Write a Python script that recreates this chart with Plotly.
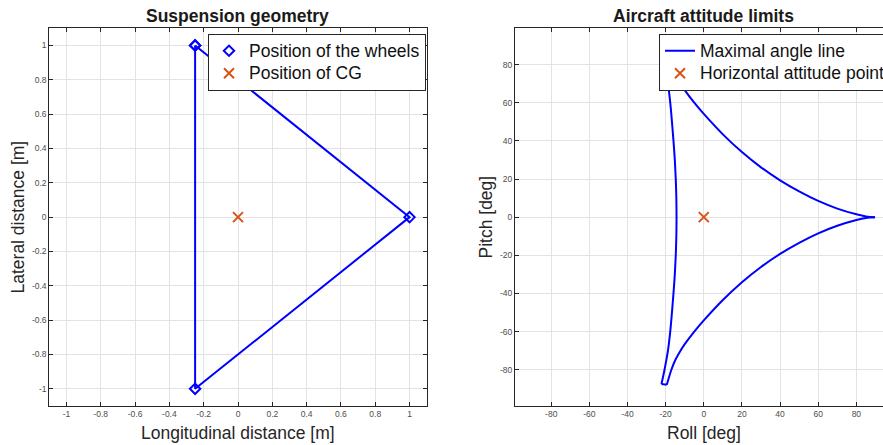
import plotly.graph_objects as go

# ---------------- data ----------------
# Suspension: wheel contact points (closed triangle) and centre of gravity
wheel_x = [-0.25, 1.0, -0.25, -0.25]
wheel_y = [1.0, 0.0, -1.0, 1.0]
cg_x = [0.0]
cg_y = [0.0]

# Attitude limit envelope (roll, pitch in deg), traced piece by piece
upper_roll = [89.8, 85, 80, 70, 60, 50, 40, 30, 20, 10, 0, -5, -10, -13.0, -15.0, -17.0, -19.4]
upper_pitch = [0, 0.4, 1.5, 4.5, 8.5, 13.5, 19.3, 26.1, 34.1, 43.4, 54.1, 60.0, 66.6, 71.3, 75.0, 80.0, 87.9]

side_roll = [-22.2, -20.6, -18.8, -17.6, -16.7, -15.9, -15.2, -14.7, -14.4, -14.3,
             -14.4, -14.7, -15.2, -15.9, -16.7, -17.6, -18.8, -20.6, -22.2]
side_pitch = [87.5, 80, 70, 60, 50, 40, 30, 20, 10, 0,
              -10, -20, -30, -40, -50, -60, -70, -80, -87.5]

lower_roll = [-19.4, -17.0, -15.0, -13.0, -10, -5, 0, 10, 20, 30, 40, 50, 60, 70, 80, 85, 89.8]
lower_pitch = [-87.9, -80.0, -75.0, -71.3, -66.6, -60.0, -54.1, -43.4, -34.1, -26.1, -19.3, -13.5, -8.5, -4.5, -1.5, -0.4, 0]

cap_roll = [-19.4, -22.2, None, -22.2, -19.4]
cap_pitch = [87.9, 87.5, None, -87.5, -87.9]

level_roll = [0.0]
level_pitch = [0.0]

# tick positions and labels
left_x_ticks = [-1, -0.8, -0.6, -0.4, -0.2, 0, 0.2, 0.4, 0.6, 0.8, 1]
left_x_labels = ["-1", "-0.8", "-0.6", "-0.4", "-0.2", "0", "0.2", "0.4", "0.6", "0.8", "1"]
left_y_ticks = left_x_ticks
left_y_labels = left_x_labels
right_ticks = [-80, -60, -40, -20, 0, 20, 40, 60, 80]
right_labels = ["-80", "-60", "-40", "-20", "0", "20", "40", "60", "80"]

# ---------------- styling ----------------
W, H = 900, 445
FONT = "Liberation Sans, Arial, Helvetica, sans-serif"
BLUE = "#0000FF"
ORANGE = "#D95319"
AXC = "#262626"
GRID = "#e3e3e3"
BIG = 17.5
TICK = 8.5


def fx(p):
    return p / W


def fy(p):
    return 1 - p / H


def entry(name):
    # legend rows are spaced by the legend font; the label itself is drawn larger
    return f'<span style="font-size:{BIG}px">{name}</span>'


fig = go.Figure()

# left panel
fig.add_trace(go.Scatter(x=wheel_x, y=wheel_y, mode="lines",
                         line=dict(color=BLUE, width=2),
                         showlegend=False, xaxis="x", yaxis="y", hoverinfo="skip"))
fig.add_trace(go.Scatter(x=wheel_x, y=wheel_y, mode="markers", name=entry("Position of the wheels"),
                         marker=dict(symbol="diamond-open", size=8, color=BLUE,
                                     line=dict(color=BLUE, width=2)),
                         xaxis="x", yaxis="y", legend="legend"))
fig.add_trace(go.Scatter(x=cg_x, y=cg_y, mode="markers", name=entry("Position of CG"),
                         marker=dict(symbol="x-thin", size=10, color=ORANGE,
                                     line=dict(color=ORANGE, width=2)),
                         xaxis="x", yaxis="y", legend="legend"))

# right panel
line_style = dict(color=BLUE, width=2)
fig.add_trace(go.Scatter(x=upper_roll, y=upper_pitch, mode="lines", name=entry("Maximal angle line"),
                         line=dict(**line_style, shape="spline", smoothing=1),
                         legendgroup="lim", xaxis="x2", yaxis="y2", legend="legend2"))
fig.add_trace(go.Scatter(x=side_roll, y=side_pitch, mode="lines",
                         line=dict(**line_style, shape="spline", smoothing=1),
                         legendgroup="lim", showlegend=False, xaxis="x2", yaxis="y2"))
fig.add_trace(go.Scatter(x=lower_roll, y=lower_pitch, mode="lines",
                         line=dict(**line_style, shape="spline", smoothing=1),
                         legendgroup="lim", showlegend=False, xaxis="x2", yaxis="y2"))
fig.add_trace(go.Scatter(x=cap_roll, y=cap_pitch, mode="lines", line=line_style,
                         legendgroup="lim", showlegend=False, xaxis="x2", yaxis="y2"))
fig.add_trace(go.Scatter(x=level_roll, y=level_pitch, mode="markers",
                         name=entry("Horizontal attitude point"),
                         marker=dict(symbol="x-thin", size=10, color=ORANGE,
                                     line=dict(color=ORANGE, width=2)),
                         xaxis="x2", yaxis="y2", legend="legend2"))

axis_common = dict(
    showline=True, linecolor=AXC, linewidth=1, mirror="ticks",
    ticks="inside", ticklen=4, tickwidth=1, tickcolor=AXC,
    showgrid=True, gridcolor=GRID, gridwidth=1, zeroline=False,
    tickfont=dict(family=FONT, size=TICK, color="#4d4d4d"),
    fixedrange=True,
)

y_dom = [fy(406), fy(28.3)]

legend_common = dict(
    bgcolor="white", bordercolor=AXC, borderwidth=1,
    font=dict(family=FONT, size=15, color="#111111"),
    xanchor="left", yanchor="top", tracegroupgap=0,
)

fig.update_layout(
    width=W, height=H,
    margin=dict(l=0, r=0, t=0, b=0),
    paper_bgcolor="white", plot_bgcolor="white",
    font=dict(family=FONT, color=AXC),
    xaxis=dict(domain=[fx(49.3), fx(426.7)], range=[-1.1, 1.1], anchor="y",
               tickvals=left_x_ticks, ticktext=left_x_labels, **axis_common),
    yaxis=dict(domain=y_dom, range=[-1.1, 1.1], anchor="x",
               tickvals=left_y_ticks, ticktext=left_y_labels, **axis_common),
    xaxis2=dict(domain=[fx(515), fx(892.6)], range=[-99, 99], anchor="y2",
                tickvals=right_ticks, ticktext=right_labels, **axis_common),
    yaxis2=dict(domain=y_dom, range=[-99, 99], anchor="x2",
                tickvals=right_ticks, ticktext=right_labels, **axis_common),
    legend=dict(x=fx(208), y=fy(33.5), **legend_common),
    legend2=dict(x=fx(659), y=fy(33.5), **legend_common),
    showlegend=True,
)

# panel titles and axis labels
texts = [
    ("<b>Suspension geometry</b>", 238, 16, 0),
    ("<b>Aircraft attitude limits</b>", 703.7, 16, 0),
    ("Longitudinal distance [m]", 238, 433, 0),
    ("Roll [deg]", 703.7, 433, 0),
    ("Lateral distance [m]", 17.5, 217, -90),
    ("Pitch [deg]", 485.5, 217, -90),
]
for txt, px, py, ang in texts:
    fig.add_annotation(text=txt, x=fx(px), y=fy(py), xref="paper", yref="paper",
                       xanchor="center", yanchor="middle", showarrow=False, textangle=ang,
                       font=dict(family=FONT, size=BIG, color="#1a1a1a" if "<b>" in txt else AXC))

fig.write_html(
    "out.html",
    post_script="document.body.style.overflow='hidden';document.documentElement.style.overflow='hidden';",
)
